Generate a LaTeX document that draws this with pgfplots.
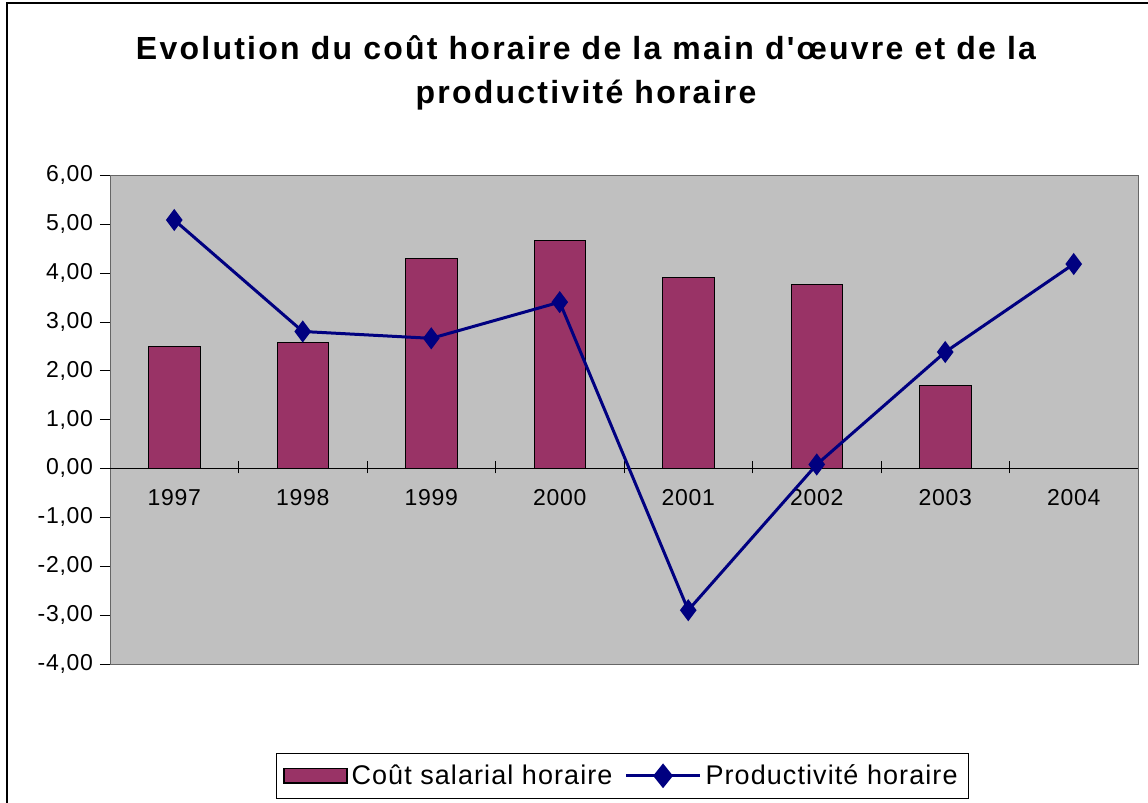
\documentclass[border=0pt]{standalone}
\usepackage{fontspec}
\setmainfont{Liberation Sans}
\newfontfamily\titlefont[LetterSpace=7]{Liberation Sans}
\newfontfamily\legfont[LetterSpace=4]{Liberation Sans}
\newfontfamily\tickfont[LetterSpace=3]{Liberation Sans}
\usepackage{pgfplots}
\pgfplotsset{compat=1.18}
\definecolor{plum}{HTML}{993366}
\definecolor{navy}{HTML}{000080}
\definecolor{silver}{HTML}{C0C0C0}
\begin{document}
\begin{tikzpicture}
\useasboundingbox (0,0) rectangle (574pt,401.5pt);
\draw[line width=1pt] (3.5pt,0) -- (3.5pt,400pt) -- (574pt,400pt);
\node[font=\titlefont\bfseries\fontsize{16}{22}\selectfont,align=center] at (293pt,365pt)
  {Evolution du coût horaire de la main d'œuvre et de la\\productivité horaire};
\begin{axis}[
  at={(55pt,69.5pt)}, anchor=south west,
  width=514pt, height=244.5pt, scale only axis,
  xmin=-0.5, xmax=7.5, ymin=-4, ymax=6,
  axis background/.style={fill=silver},
  axis line style={draw=gray!80!black},
  ytick={-4,-3,...,6},
  ytick pos=left,
  /pgf/number format/assume math mode=true,
  yticklabel style={/pgf/number format/fixed,/pgf/number format/fixed zerofill,/pgf/number format/precision=2,/pgf/number format/use comma,font=\tickfont\fontsize{11.5}{13}\selectfont},
  xtick=\empty,
  tick align=outside,
  major tick length=5pt,
  ytick style={black},
  legend style={at={(0.4985,-0.182)}, anchor=north, legend columns=2,
    draw=black, font=\legfont\fontsize{13.5}{15}\selectfont, inner sep=3.5pt,
    /tikz/every even column/.append style={column sep=4pt}},
  clip=false,
]
\draw[black] (axis cs:-0.5,0) -- (axis cs:7.5,0);
\pgfplotsinvokeforeach{0.5,1.5,2.5,3.5,4.5,5.5,6.5}{\draw[black] (axis cs:#1,-0.1) -- (axis cs:#1,0.15);}
\pgfplotsinvokeforeach{0,1,2,3,4,5,6,7}{\node[font=\tickfont\fontsize{11.5}{13}\selectfont, anchor=north] at (axis cs:#1,-0.28) {\pgfmathparse{int(1997+#1)}\pgfmathresult};}
\addplot[ybar, bar width=0.4, fill=plum, draw=black, bar shift=0pt,
  legend image code/.code={\draw[fill=plum,draw=black,line width=0.8pt] (0cm,-0.13cm) rectangle (1.1cm,0.13cm);}]
  coordinates {(0,2.50) (1,2.58) (2,4.30) (3,4.67) (4,3.90) (5,3.77) (6,1.69)};
\addlegendentry{Coût salarial horaire}
\addplot[navy, line width=1.5pt, mark=diamond*, mark size=4.3pt, mark options={fill=navy,draw=navy},
  legend image code/.code={\draw[navy,line width=1.5pt] (0cm,0cm) -- (1.3cm,0cm); \fill[navy] (0.65cm,0cm) +(0,-5pt) -- +(4pt,0) -- +(0,5pt) -- +(-4pt,0) -- cycle;}]
  coordinates {(0,5.08) (1,2.80) (2,2.66) (3,3.40) (4,-2.90) (5,0.08) (6,2.38) (7,4.18)};
\addlegendentry{Productivité horaire}
\end{axis}
\end{tikzpicture}
\end{document}
